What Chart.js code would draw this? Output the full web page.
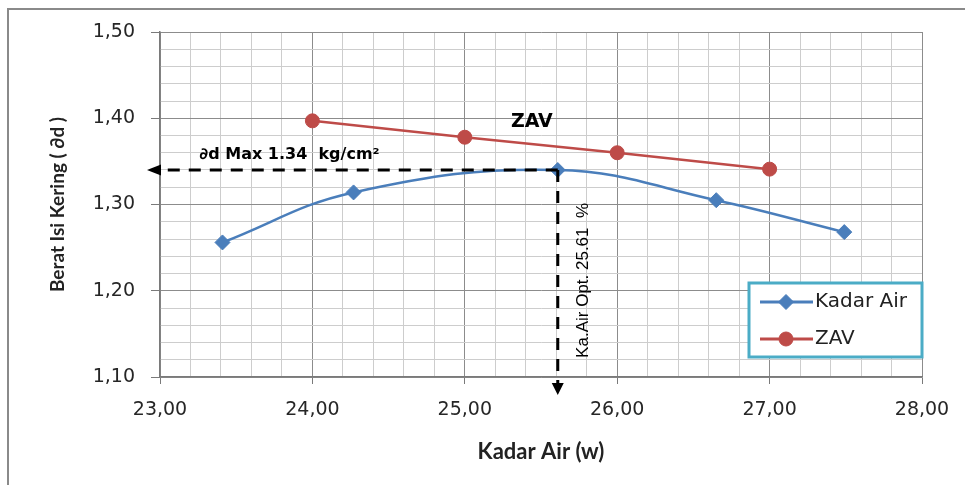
<!DOCTYPE html>
<html>
<head>
<meta charset="utf-8">
<script src="https://cdn.jsdelivr.net/npm/chart.js@4.4.1/dist/chart.umd.min.js"></script>
<style>
  html, body { margin: 0; padding: 0; background: #fff; }
  #wrap { width: 965px; height: 485px; }
</style>
</head>
<body>
<div id="wrap"><canvas id="proctorChart" width="965" height="485"></canvas></div>
<script>
// Data
const kadarAirX = [23.41, 24.27, 25.61, 26.65, 27.49];
const kadarAirY = [1.256, 1.314, 1.340, 1.305, 1.268];
const zavX = [24, 25, 26, 27];
const zavY = [1.397, 1.378, 1.360, 1.341];

const seriesLabels = ['Kadar Air', 'ZAV'];
const xTickLabels = ['23,00', '24,00', '25,00', '26,00', '27,00', '28,00'];
const yTickLabels = ['1,10', '1,20', '1,30', '1,40', '1,50'];

// Optimum marked with dashed arrows
const dryDensityMax = 1.34;
const optimumMoisture = 25.61;
const maxText = '\u2202d Max 1.34  kg/cm\u00b2';
const optText = 'Ka.Air Opt. 25.61  %';
const zavText = 'ZAV';

const blue = '#4A7EBB';
const red = '#BE4B48';

const isWhole = (v, f) => Math.abs(v * f - Math.round(v * f)) < 1e-6;

// White background + outer frame
const framePlugin = {
    id: 'frame',
    beforeDraw(chart) {
        const ctx = chart.ctx;
        ctx.save();
        ctx.fillStyle = '#fff';
        ctx.fillRect(0, 0, chart.width, chart.height);
        ctx.strokeStyle = '#8a8a8a';
        ctx.lineWidth = 2;
        ctx.beginPath();
        ctx.moveTo(8, chart.height);
        ctx.lineTo(8, 9);
        ctx.lineTo(chart.width, 9);
        ctx.stroke();
        ctx.restore();
    }
};

// Dashed arrows and text notes
const notesPlugin = {
    id: 'notes',
    afterDatasetsDraw(chart) {
        const { ctx, chartArea: ca, scales: { x, y } } = chart;
        const px = x.getPixelForValue(optimumMoisture);
        const py = y.getPixelForValue(dryDensityMax);
        ctx.save();
        ctx.strokeStyle = '#000';
        ctx.fillStyle = '#000';
        ctx.lineWidth = 3;
        ctx.setLineDash([12, 9]);
        ctx.beginPath();
        ctx.moveTo(px, py);
        ctx.lineTo(ca.left + 1, py);
        ctx.moveTo(px, py);
        ctx.lineTo(px, ca.bottom + 6);
        ctx.stroke();
        ctx.setLineDash([]);
        // arrow heads
        ctx.beginPath();
        ctx.moveTo(ca.left - 13, py);
        ctx.lineTo(ca.left + 1, py - 5.5);
        ctx.lineTo(ca.left + 1, py + 5.5);
        ctx.closePath();
        ctx.fill();
        ctx.beginPath();
        ctx.moveTo(px, ca.bottom + 18);
        ctx.lineTo(px - 6, ca.bottom + 6);
        ctx.lineTo(px + 6, ca.bottom + 6);
        ctx.closePath();
        ctx.fill();

        ctx.textAlign = 'center';
        ctx.textBaseline = 'middle';
        ctx.font = 'bold 16px "DejaVu Sans"';
        ctx.fillText(maxText, x.getPixelForValue(23.85), y.getPixelForValue(1.357));
        ctx.font = 'bold 19px "DejaVu Sans"';
        ctx.fillText(zavText, x.getPixelForValue(25.44), y.getPixelForValue(1.396));

        ctx.translate(x.getPixelForValue(25.78), y.getPixelForValue(1.212));
        ctx.rotate(-Math.PI / 2);
        ctx.font = '17px "Liberation Sans"';
        ctx.fillText(optText, 0, 0);
        ctx.restore();
    }
};

// Boxed legend inside the plot, lower right
const boxLegendPlugin = {
    id: 'boxLegend',
    afterDraw(chart) {
        const { ctx, chartArea: ca } = chart;
        const w = 173, h = 74;
        const left = ca.right - w, top = ca.bottom - 20 - h;
        ctx.save();
        ctx.fillStyle = '#fff';
        ctx.fillRect(left, top, w, h);
        ctx.strokeStyle = '#4BACC6';
        ctx.lineWidth = 3;
        ctx.strokeRect(left, top, w, h);
        chart.data.datasets.forEach((ds, i) => {
            const cy = top + 19 + i * 37;
            ctx.strokeStyle = ds.borderColor;
            ctx.lineWidth = 3;
            ctx.beginPath();
            ctx.moveTo(left + 11, cy);
            ctx.lineTo(left + 64, cy);
            ctx.stroke();
            ctx.fillStyle = ds.pointBackgroundColor;
            ctx.strokeStyle = ds.pointBorderColor;
            ctx.lineWidth = 1;
            Chart.helpers.drawPoint(ctx, {
                pointStyle: ds.pointStyle, radius: ds.pointRadius, rotation: 0, borderWidth: 1
            }, left + 37, cy);
            ctx.fillStyle = '#222';
            ctx.font = '20px "DejaVu Sans"';
            ctx.textAlign = 'left';
            ctx.textBaseline = 'middle';
            ctx.fillText(ds.label, left + 66, cy);
        });
        ctx.restore();
    }
};

const tickFont = { family: 'DejaVu Sans', size: 19 };

new Chart(document.getElementById('proctorChart'), {
    type: 'scatter',
    data: {
        datasets: [
            {
                label: seriesLabels[0],
                data: kadarAirX.map((v, i) => ({ x: v, y: kadarAirY[i] })),
                showLine: true,
                tension: 0.4,
                borderColor: blue,
                borderWidth: 2.5,
                pointStyle: 'rectRot',
                pointRadius: 7.5,
                pointBackgroundColor: blue,
                pointBorderColor: blue,
                pointBorderWidth: 1
            },
            {
                label: seriesLabels[1],
                data: zavX.map((v, i) => ({ x: v, y: zavY[i] })),
                showLine: true,
                tension: 0,
                borderColor: red,
                borderWidth: 2.5,
                pointStyle: 'circle',
                pointRadius: 7,
                pointBackgroundColor: red,
                pointBorderColor: red,
                pointBorderWidth: 1
            }
        ]
    },
    options: {
        responsive: false,
        animation: false,
        devicePixelRatio: 1,
        layout: { padding: { top: 32, right: 43, left: 0, bottom: 0 } },
        plugins: {
            legend: { display: false },
            tooltip: { enabled: false }
        },
        scales: {
            x: {
                type: 'linear',
                min: 23,
                max: 28,
                afterBuildTicks: s => {
                    const t = [];
                    for (let i = 0; i <= 25; i++) t.push({ value: +(23 + i * 0.2).toFixed(1) });
                    s.ticks = t;
                },
                afterFit: s => { s.height = 108; },
                grid: {
                    color: c => isWhole(c.tick.value, 1) ? '#8c8c8c' : '#cdcdcd',
                    tickColor: c => isWhole(c.tick.value, 1) ? '#7a7a7a' : 'rgba(0,0,0,0)',
                    tickLength: 7,
                    lineWidth: 1
                },
                border: { color: '#7a7a7a', width: 1.5 },
                ticks: {
                    autoSkip: false,
                    maxRotation: 0,
                    padding: 15,
                    color: '#262626',
                    font: tickFont,
                    callback: v => isWhole(v, 1) ? xTickLabels[Math.round(v - 23)] : ''
                },
                title: {
                    display: true,
                    text: 'Kadar Air (w)',
                    color: '#222',
                    font: { family: 'Lato', size: 22, weight: 'bold' },
                    padding: { top: 0, bottom: 20 }
                }
            },
            y: {
                type: 'linear',
                min: 1.1,
                max: 1.5,
                afterBuildTicks: s => {
                    const t = [];
                    for (let i = 0; i <= 20; i++) t.push({ value: +(1.1 + i * 0.02).toFixed(2) });
                    s.ticks = t;
                },
                afterFit: s => { s.width = 160; },
                grid: {
                    color: c => isWhole(c.tick.value, 10) ? '#8c8c8c' : '#cdcdcd',
                    tickColor: c => isWhole(c.tick.value, 10) ? '#7a7a7a' : 'rgba(0,0,0,0)',
                    tickLength: 9,
                    lineWidth: 1
                },
                border: { color: '#7a7a7a', width: 1.5 },
                ticks: {
                    autoSkip: false,
                    padding: 16,
                    color: '#262626',
                    font: tickFont,
                    callback: v => isWhole(v, 10) ? yTickLabels[Math.round((v - 1.1) * 10)] : ''
                },
                title: {
                    display: true,
                    text: 'Berat Isi Kering ( \u2202d )',
                    color: '#222',
                    font: { family: 'Lato', size: 19, weight: 'bold' },
                    padding: { top: 46, bottom: 0 }
                }
            }
        }
    },
    plugins: [framePlugin, notesPlugin, boxLegendPlugin]
});
</script>
</body>
</html>
